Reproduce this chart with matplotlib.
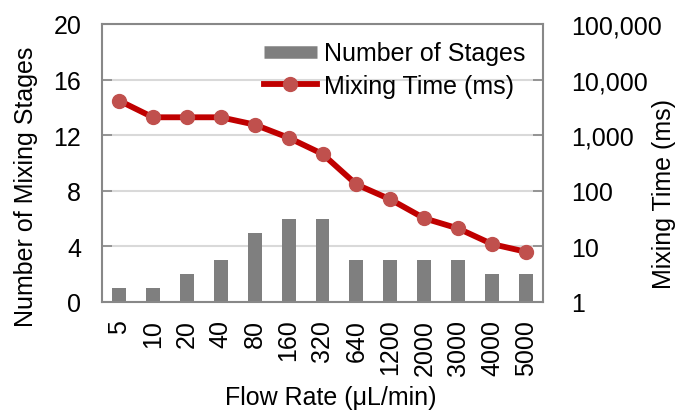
import matplotlib.pyplot as plt
from matplotlib.lines import Line2D
import numpy as np

plt.rcParams['font.family'] = ['Liberation Sans', 'DejaVu Sans']

flow_rates = ["5", "10", "20", "40", "80", "160", "320", "640", "1200", "2000", "3000", "4000", "5000"]
stages = [1, 1, 2, 3, 5, 6, 6, 3, 3, 3, 3, 2, 2]
mixing_time = [4200, 2100, 2100, 2100, 1550, 900, 460, 130, 70, 32, 21, 11, 8]

FS = 18
x = np.arange(len(flow_rates))

fig, ax = plt.subplots(figsize=(6.82, 4.14), dpi=100)
fig.subplots_adjust(left=102 / 682, right=543 / 682, top=1 - 25 / 414, bottom=1 - 303 / 414)

# bars on the left axis
bars = ax.bar(x, stages, width=0.41, color="#7f7f7f", zorder=2)
ax.set_xlim(-0.5, len(x) - 0.5)
ax.set_ylim(0, 20)
ax.set_yticks([0, 4, 8, 12, 16, 20])
ax.set_xticks(x)
ax.set_xticklabels(flow_rates, rotation=90)
ax.set_xticks(np.arange(-0.5, len(x)), minor=True)
ax.tick_params(axis='x', which='major', length=0, labelsize=FS, pad=12)
ax.tick_params(axis='x', which='minor', direction='in', length=6, width=1.2, color="#888888")
ax.tick_params(axis='y', direction='in', length=7, width=1.2, color="#888888", labelsize=FS, pad=15)
ax.grid(True, axis='y', color="#d9d9d9", linewidth=1.5, zorder=0)
ax.grid(True, axis='x', which='minor', color="#d9d9d9", linewidth=1.5, zorder=0)
ax.set_axisbelow(True)
for s in ax.spines.values():
    s.set_color("#888888")
    s.set_linewidth(1.5)

# line on the right log axis
ax2 = ax.twinx()
line, = ax2.plot(x, mixing_time, color="#c00000", linewidth=4.2, marker='o',
                 markersize=10, markerfacecolor="#c0504d", markeredgecolor="#c0504d",
                 zorder=3)
ax2.set_yscale('log')
ax2.set_ylim(1, 100000)
ax2.set_yticks([1, 10, 100, 1000, 10000, 100000])
ax2.set_yticklabels(["1", "10", "100", "1,000", "10,000", "100,000"])
ax2.minorticks_off()
ax2.tick_params(axis='y', direction='in', length=7, width=1.2, color="#888888", labelsize=FS, pad=20)
for s in ax2.spines.values():
    s.set_visible(False)

# axis titles
fig.text(26 / 682, 1 - 187 / 414, "Number of Mixing Stages", rotation=90, fontsize=FS,
         ha='center', va='center')
fig.text(664 / 682, 1 - 194 / 414, "Mixing Time (ms)", rotation=90, fontsize=FS,
         ha='center', va='center')
fig.text(331 / 682, 1 - 398 / 414, "Flow Rate (\u03bcL/min)", fontsize=FS,
         ha='center', va='center')

# thin gray bar as legend handle, like the original
bar_handle = Line2D([0], [0], color="#7f7f7f", linewidth=9, solid_capstyle='butt')
ax2.legend([bar_handle, line], ["Number of Stages", "Mixing Time (ms)"], loc='upper right',
           fontsize=FS, frameon=False, handlelength=2.1, handletextpad=0.3,
           borderaxespad=0.45, labelspacing=0.34, borderpad=0.25)

fig.savefig("out.png")
